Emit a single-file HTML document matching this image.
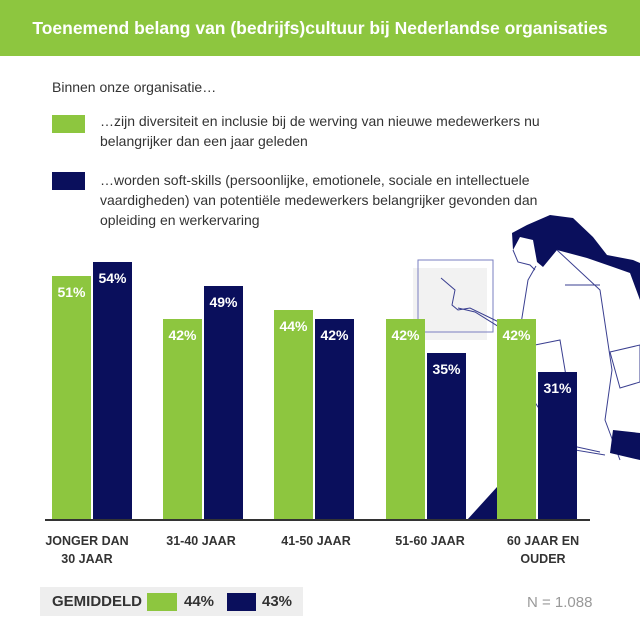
<!DOCTYPE html>
<html><head><meta charset="utf-8"><style>
body{margin:0;width:640px;height:640px;background:#fff;position:relative;overflow:hidden;font-family:"Liberation Sans",sans-serif}
.a{position:absolute}
.hdr{left:0;top:0;width:640px;height:56px;background:#8dc63f;color:#fff;font-weight:bold;font-size:17.5px;line-height:56px;text-align:center}
.t{color:#333;font-size:14px;line-height:20px}
.g{background:#8dc63f}.n{background:#0a0f5c}
.bar{position:absolute;width:39px;bottom:120px;box-sizing:border-box}
.v{color:#fff;font-weight:bold;font-size:14px;text-align:center;padding-top:8px}
.lab{position:absolute;top:532px;width:120px;text-align:center;font-weight:bold;font-size:12.5px;line-height:18px;color:#333}
</style></head><body>
<div class="a hdr">Toenemend belang van (bedrijfs)cultuur bij Nederlandse organisaties</div>
<div class="a t" style="left:52px;top:77px">Binnen onze organisatie…</div>
<div class="a g" style="left:52px;top:115px;width:33px;height:18px"></div>
<div class="a t" style="left:100px;top:111px;width:480px">…zijn diversiteit en inclusie bij de werving van nieuwe medewerkers nu belangrijker dan een jaar geleden</div>
<div class="a n" style="left:52px;top:172px;width:33px;height:18px"></div>
<div class="a t" style="left:100px;top:170px;width:460px">…worden soft-skills (persoonlijke, emotionele, sociale en intellectuele vaardigheden) van potentiële medewerkers belangrijker gevonden dan opleiding en werkervaring</div>
<svg class="a" style="left:0;top:0" width="640" height="640" viewBox="0 0 640 640">
<rect x="413" y="268" width="74" height="72" fill="#f2f2f2"/>
<rect x="418" y="260" width="75" height="72" fill="none" stroke="#7a7fc0" stroke-width="1"/>
<path d="M512 233 L527 225 L550 215 L573 218 L593 237 L607 255 L633 260 L640 263 L640 300 L630 273 L613 267 L587 258 L557 250 L543 267 L537 262 L533 240 L520 237 L513 250 Z" fill="#0a0f5c"/>
<path d="M513 250 L518 262 L530 265 L535 270 M441 278 L455 290 L452 305 L458 310 L470 308 L505 325 M458 308 L475 312 L512 335 M536 266 L528 280 L520 330 L530 345 L535 385 M557 250 L600 290 L612 370 L605 420 L620 460 M565 285 L600 285 M535 345 L560 340 L570 400 L575 450 L605 455 M530 345 L520 380 L540 410 L545 440 L600 452" fill="none" stroke="#3a3f90" stroke-width="1"/>
<path d="M610 352 L640 345 L640 382 L620 388 Z" fill="none" stroke="#3a3f90"/>
<path d="M613 430 L640 433 L640 460 L610 453 Z" fill="#0a0f5c"/>
<path d="M467 520 L497 487 L497 520 Z" fill="#0a0f5c"/>
</svg>
<div class="bar g v" style="left:52px;height:244px">51%</div>
<div class="bar n v" style="left:93px;height:258px">54%</div>
<div class="bar g v" style="left:163px;height:201px">42%</div>
<div class="bar n v" style="left:204px;height:234px">49%</div>
<div class="bar g v" style="left:274px;height:210px">44%</div>
<div class="bar n v" style="left:315px;height:201px">42%</div>
<div class="bar g v" style="left:386px;height:201px">42%</div>
<div class="bar n v" style="left:427px;height:167px">35%</div>
<div class="bar g v" style="left:497px;height:201px">42%</div>
<div class="bar n v" style="left:538px;height:148px">31%</div>
<div class="a" style="left:45px;top:519px;width:545px;height:2px;background:#333"></div>
<div class="lab" style="left:27px">JONGER DAN<br>30 JAAR</div>
<div class="lab" style="left:141px">31-40 JAAR</div>
<div class="lab" style="left:256px">41-50 JAAR</div>
<div class="lab" style="left:370px">51-60 JAAR</div>
<div class="lab" style="left:483px">60 JAAR EN<br>OUDER</div>
<div class="a" style="left:40px;top:587px;width:263px;height:29px;background:#eeeeee"></div>
<div class="a" style="left:52px;top:593px;font-weight:bold;font-size:15px;color:#333">GEMIDDELD</div>
<div class="a g" style="left:147px;top:593px;width:30px;height:18px"></div>
<div class="a" style="left:184px;top:593px;font-weight:bold;font-size:15px;color:#333">44%</div>
<div class="a n" style="left:227px;top:593px;width:29px;height:18px"></div>
<div class="a" style="left:262px;top:593px;font-weight:bold;font-size:15px;color:#333">43%</div>
<div class="a" style="left:527px;top:594px;font-size:15px;color:#999">N = 1.088</div>
</body></html>
